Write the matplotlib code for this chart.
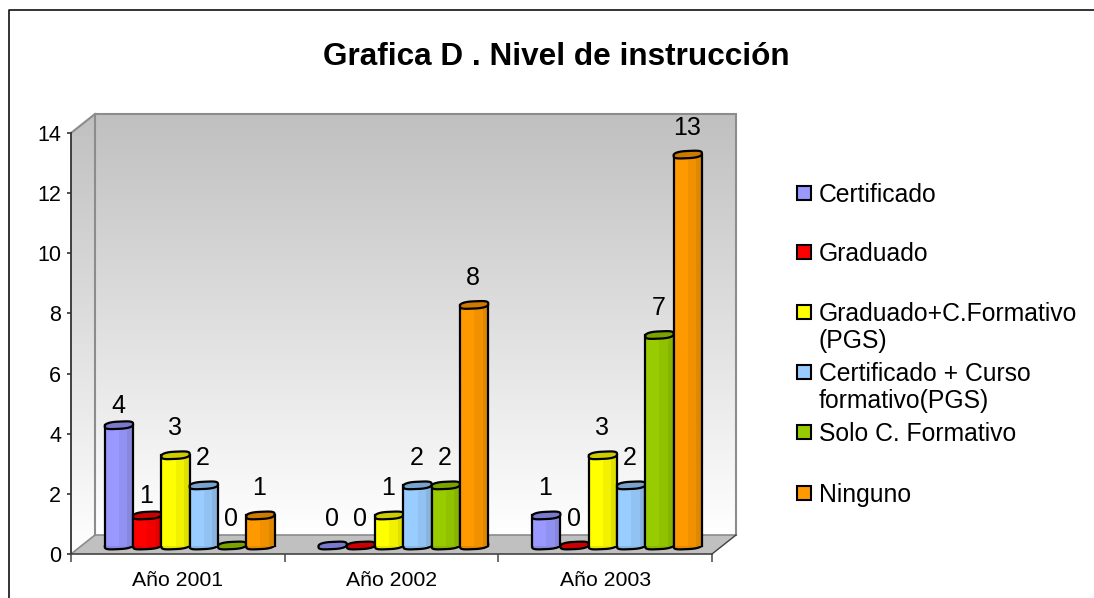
import numpy as np
import matplotlib
matplotlib.use("Agg")
import matplotlib.pyplot as plt
from matplotlib.patches import Polygon, Rectangle
from matplotlib.colors import LinearSegmentedColormap, to_rgb

plt.rcParams['font.family'] = ['Liberation Sans', 'DejaVu Sans']

# Data
years = ['Año 2001', 'Año 2002', 'Año 2003']
niveles = ['Certificado', 'Graduado', 'Graduado+C.Formativo\n(PGS)',
           'Certificado + Curso\nformativo(PGS)', 'Solo C. Formativo', 'Ninguno']
certificado = [4, 0, 1]
graduado = [1, 0, 0]
graduado_cf = [3, 1, 3]
certificado_cf = [2, 2, 2]
solo_cf = [0, 2, 7]
ninguno = [1, 8, 13]
series = [certificado, graduado, graduado_cf, certificado_cf, solo_cf, ninguno]
colores = ['#9999FF', '#FF0000', '#FFFF00', '#99CCFF', '#99CC00', '#FF9900']
y_ticks = [0, 2, 4, 6, 8, 10, 12, 14]

W, H = 1094, 598
fig = plt.figure(figsize=(W / 100, H / 100), dpi=100)

# front plane of the 3D box, in pixels of the picture
left, right, top, bottom = 71, 712, 133, 554
ax = fig.add_axes([left / W, 1 - bottom / H, (right - left) / W, (bottom - top) / H])
ax.set_xlim(0, 3)
ax.set_ylim(0, 14)
ax.patch.set_alpha(0)

# one pixel in data units
px = 3 / (right - left)
py = 14 / (bottom - top)
depth_x, depth_y = 24 * px, 19 * py

# outer frame, only top and left are inside the picture
fig.add_artist(plt.Line2D([9 / W, 9 / W, 1], [0, 1 - 10 / H, 1 - 10 / H], color='#111111', lw=1.2))

# back wall and side wall
cmap = LinearSegmentedColormap.from_list('pared', ['#FFFFFF', '#C0C0C0'])
grad = np.linspace(1, 0, 256).reshape(-1, 1)
ax.imshow(grad, cmap=cmap, aspect='auto', zorder=1, vmin=0, vmax=1, interpolation='bilinear',
          extent=[depth_x, 3 + depth_x, depth_y, 14 + depth_y], clip_on=False)
side = ax.imshow(grad, cmap=cmap, aspect='auto', zorder=1, vmin=0, vmax=1,
                 extent=[0, depth_x, 0, 14 + depth_y], interpolation='bilinear')
side_poly = Polygon([(0, 0), (depth_x, depth_y), (depth_x, 14 + depth_y), (0, 14)],
                    closed=True, transform=ax.transData)
side.set_clip_path(side_poly)
# the top corner of the side wall is above the axes box
side.set_clip_box(fig.bbox)
ax.set_xlim(0, 3)
ax.set_ylim(0, 14)

# floor
ax.add_patch(Polygon([(0, 0), (3, 0), (3 + depth_x, depth_y), (depth_x, depth_y)],
                     closed=True, fc='#C0C0C0', ec='none', zorder=2, clip_on=False))
# wall edges
ax.plot([depth_x, depth_x, 3 + depth_x, 3 + depth_x], [depth_y, 14 + depth_y, 14 + depth_y, depth_y],
        color='#8C8C8C', lw=1.5, zorder=2, clip_on=False, solid_joinstyle='miter')
ax.plot([0, depth_x], [14, 14 + depth_y], color='#8C8C8C', lw=1.5, zorder=2, clip_on=False)
ax.plot([0, depth_x, 3 + depth_x], [0, depth_y, depth_y], color='#8C8C8C', lw=1.2, zorder=2, clip_on=False)
ax.plot([3, 3 + depth_x], [0, depth_y], color='#404040', lw=1, zorder=2, clip_on=False)

# bars
bar_w = 28.3 * px
start_x = 0.102 + 12 * px
base_y = 8.5 * py


def oscuro(color, f):
    r, g, b = to_rgb(color)
    return (r * f, g * f, b * f)


def tapa(xc, y):
    # flattened, slightly tilted ellipse for the top and base of a cylinder
    t = np.linspace(0, 2 * np.pi, 40, endpoint=False)
    c, s = np.cos(t), np.sin(t)
    xs = xc + bar_w / 2 * np.sign(c) * np.abs(c) ** 0.7
    ys = y + (3.6 * np.sign(s) * np.abs(s) ** 0.7 + 1.2 * c) * py
    return np.column_stack([xs, ys])


for i, (nombre, vals, col) in enumerate(zip(niveles, series, colores)):
    for j, v in enumerate(vals):
        xc = j + start_x + (i + 0.5) * bar_w
        z = 3 + i * 0.1
        if v > 0:
            # base first, then the body with its shaded stripes
            ax.add_patch(Polygon(tapa(xc, base_y), closed=True, fc=oscuro(col, 0.9), ec='black',
                                 lw=1.6, zorder=z, clip_on=False))
            ax.bar(xc - 0.2 * bar_w, v, bottom=base_y, width=bar_w * 0.6, color=col, lw=0, zorder=z + 0.01)
            ax.bar(xc + 0.15 * bar_w, v, bottom=base_y, width=bar_w * 0.3, lw=0, zorder=z + 0.01,
                   color=oscuro(col, 0.95))
            ax.bar(xc + 0.4 * bar_w, v, bottom=base_y, width=bar_w * 0.2, lw=0, zorder=z + 0.01,
                   color=oscuro(col, 0.88))
            ax.plot([xc - bar_w / 2] * 2, [base_y, base_y + v], color='black', lw=1.6, zorder=z + 0.02)
            ax.plot([xc + bar_w / 2] * 2, [base_y, base_y + v], color='black', lw=1.6, zorder=z + 0.02)
        ax.add_patch(Polygon(tapa(xc, base_y + v), closed=True, fc=oscuro(col, 0.8), ec='black',
                             lw=1.6, zorder=z + 0.03, clip_on=False))
        # most labels sit ~27px above the top, the first two of 2001 are closer
        gap = 19 if (j == 0 and i in (0, 1)) else 27
        ax.text(xc - 1 * px, base_y + v + gap * py, str(v), ha='center', va='center', fontsize=18,
                color='black', zorder=6, clip_on=False)

# axes
ax.set_xticks([0, 1, 2, 3])
ax.set_xticklabels([])
ax.set_yticks(y_ticks)
ax.tick_params(axis='y', length=3, width=1.2, labelsize=15.5, pad=4, color='#333333')
ax.tick_params(axis='x', length=6, width=1.2, color='#555555')
for s in ['top', 'right']:
    ax.spines[s].set_visible(False)
ax.spines['left'].set_linewidth(1.3)
ax.spines['left'].set_color('#333333')
ax.spines['bottom'].set_linewidth(1.2)
ax.spines['bottom'].set_color('#444444')
ax.spines['left'].set_zorder(5)
ax.spines['bottom'].set_zorder(5)
for j, y in enumerate(years):
    ax.text(j + 0.5, -26.5 * py, y, ha='center', va='center', fontsize=15.3)

# title
fig.text(556 / W, 1 - 57 / H, 'Grafica D . Nivel de instrucción', ha='center', va='center',
         fontsize=22.7, fontweight='bold')

# legend, placed by hand because the wrapped entries are unevenly spaced
leg_y = [193, 252, 312, 372, 432, 493]
for nombre, col, y in zip(niveles, colores, leg_y):
    fig.add_artist(Rectangle((797 / W, 1 - (y + 7) / H), 14 / W, 14 / H, fc=col, ec='black', lw=1.5,
                             transform=fig.transFigure))
    fig.text(819 / W, 1 - (y - 10) / H, nombre, ha='left', va='top', fontsize=17.8, linespacing=1.18)

fig.savefig('out.png', dpi=100)
